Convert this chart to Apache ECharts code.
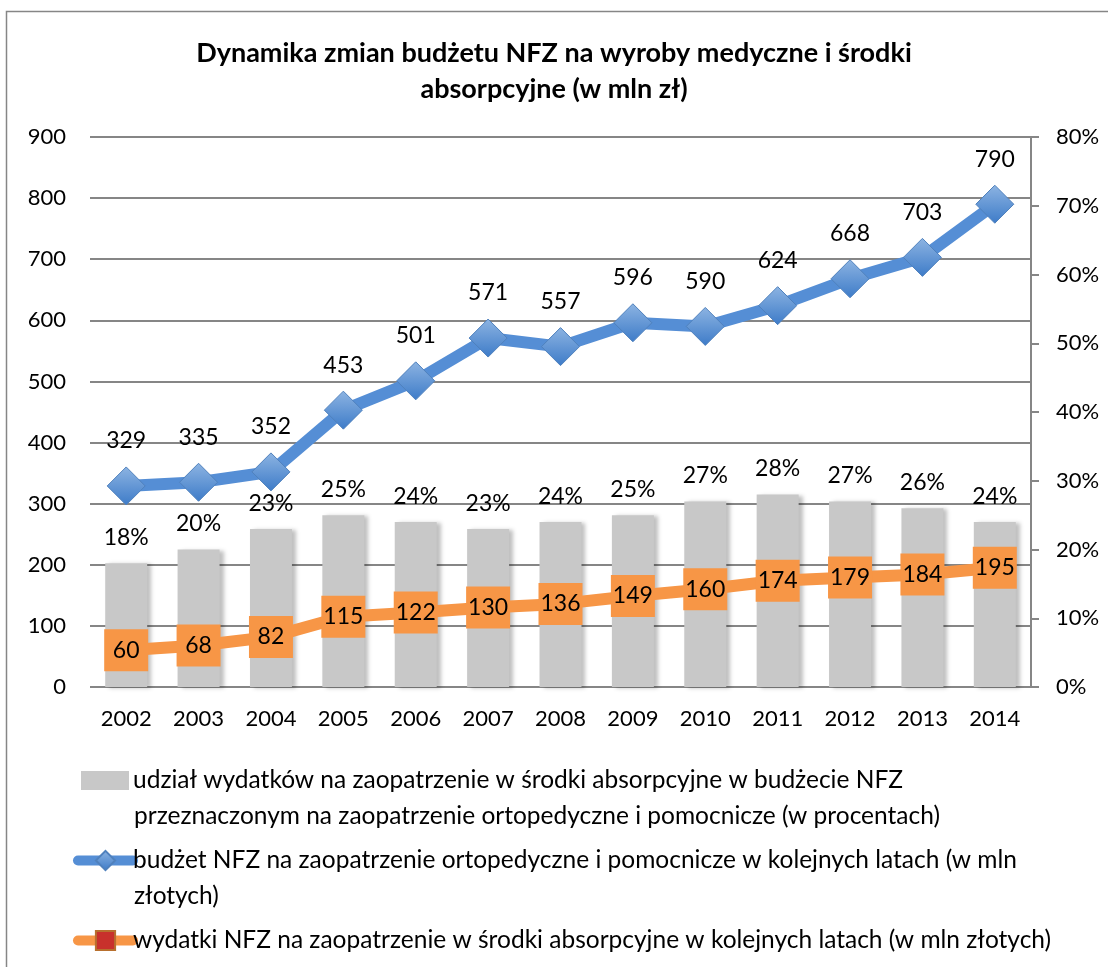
<!DOCTYPE html>
<html>
<head>
<meta charset="utf-8">
<script src="https://cdn.jsdelivr.net/npm/echarts@6/dist/echarts.min.js"></script>
<style>
html, body { margin: 0; padding: 0; background: #fff; }
#chart { width: 1108px; height: 967px; }
</style>
</head>
<body>
<div id="chart"></div>
<script>
// dane wykresu
var years = ['2002', '2003', '2004', '2005', '2006', '2007', '2008', '2009', '2010', '2011', '2012', '2013', '2014'];
var udzial = [18, 20, 23, 25, 24, 23, 24, 25, 27, 28, 27, 26, 24];
var budzet = [329, 335, 352, 453, 501, 571, 557, 596, 590, 624, 668, 703, 790];
var wydatki = [60, 68, 82, 115, 122, 130, 136, 149, 160, 174, 179, 184, 195];

var names = [
	'udział wydatków na zaopatrzenie w środki absorpcyjne w budżecie NFZ\nprzeznaczonym na zaopatrzenie ortopedyczne i pomocnicze (w procentach)',
	'budżet NFZ na zaopatrzenie ortopedyczne i pomocnicze w kolejnych latach (w mln\nzłotych)',
	'wydatki NFZ na zaopatrzenie w środki absorpcyjne w kolejnych latach (w mln złotych)'
];

var font = 'Lato, "Open Sans", sans-serif';
var chart = echarts.init(document.getElementById('chart'));

var legendTop = 763;
var legendStep = 80;
var legendFont = 24.5;

// druga linia opisow legendy (ikona legendy stoi przy pierwszej linii)
var graphics = [{
	type: 'rect',
	shape: { x: 6.5, y: 11.5, width: 1120, height: 980 },
	style: { fill: 'none', stroke: '#868686', lineWidth: 1.5 },
	silent: true
}];
for (var i = 0; i < names.length; i++) {
	var parts = names[i].split('\n');
	if (parts.length > 1) {
		graphics.push({
			type: 'text',
			left: 134,
			top: legendTop + i * legendStep + 41,
			style: { text: parts[1], font: legendFont + 'px ' + font, fill: '#000' },
			silent: true
		});
	}
}

var option = {
	backgroundColor: '#fff',
	textStyle: { fontFamily: font, color: '#000' },
	title: {
		text: 'Dynamika zmian budżetu NFZ na wyroby medyczne i środki\nabsorpcyjne (w mln zł)',
		left: 'center',
		top: 30,
		textStyle: { fontSize: 27, fontWeight: 'bold', lineHeight: 36, fontFamily: font, color: '#000' }
	},
	graphic: graphics,
	grid: { left: 90, right: 77, top: 137, bottom: 280 },
	legend: {
		orient: 'vertical',
		left: 73,
		top: legendTop,
		padding: 0,
		itemWidth: 55,
		itemHeight: 24,
		itemGap: legendStep - 35,
		lineStyle: { width: 10, cap: 'round' },
		formatter: function(name) {
			return name.split('\n')[0];
		},
		data: [
			{ name: names[0], icon: 'path://M0,0M55,24M3,2.5L51,2.5L51,21.5L3,21.5Z' },
			{ name: names[1] },
			{ name: names[2], itemStyle: { color: '#c8312c', borderColor: '#b8702e', borderWidth: 2 } }
		],
		textStyle: { fontSize: legendFont, lineHeight: 35, color: '#000', fontFamily: font, padding: [0, 0, 0, -5] }
	},
	xAxis: {
		type: 'category',
		data: years,
		axisLine: { show: false },
		axisTick: { show: false },
		axisLabel: { fontSize: 22, color: '#000', margin: 21 }
	},
	yAxis: [{
		type: 'value',
		min: 0, max: 900, interval: 100,
		axisLine: { show: false },
		axisTick: { show: false },
		axisLabel: { fontSize: 22, color: '#000', margin: 24 },
		splitLine: { lineStyle: { color: '#868686', width: 2 } }
	}, {
		type: 'value',
		min: 0, max: 80, interval: 10,
		axisLine: { show: true, lineStyle: { color: '#868686', width: 2 } },
		axisTick: { show: true, length: 8, lineStyle: { color: '#868686', width: 2 } },
		axisLabel: { fontSize: 22, color: '#000', margin: 25, formatter: '{value}%' },
		splitLine: { show: false }
	}],
	series: [{
		name: names[0],
		type: 'bar',
		yAxisIndex: 1,
		data: udzial,
		barWidth: '58%',
		itemStyle: {
			color: '#c8c8c8',
			shadowColor: 'rgba(0,0,0,0.25)',
			shadowBlur: 4,
			shadowOffsetX: 4,
			shadowOffsetY: 1
		},
		label: { show: true, position: 'top', distance: 14, fontSize: 23, color: '#000', formatter: '{c}%' },
		z: 1
	}, {
		name: names[1],
		type: 'line',
		yAxisIndex: 0,
		data: budzet,
		symbol: 'diamond',
		symbolSize: [38, 38],
		lineStyle: { color: '#558ed5', width: 12 },
		itemStyle: {
			color: new echarts.graphic.LinearGradient(0, 0, 0, 1, [
				{ offset: 0, color: '#8db4e2' },
				{ offset: 1, color: '#3d7bc8' }
			]),
			borderColor: '#4f81bd',
			borderWidth: 1
		},
		label: { show: true, position: 'top', distance: 14, fontSize: 23, color: '#000' },
		z: 3
	}, {
		name: names[2],
		type: 'line',
		yAxisIndex: 0,
		data: wydatki,
		symbol: 'rect',
		symbolSize: [44, 42],
		lineStyle: { color: '#f79646', width: 12 },
		itemStyle: { color: '#f79646' },
		label: { show: true, position: 'inside', fontSize: 23, color: '#000' },
		z: 4
	}]
};

chart.setOption(option);
</script>
</body>
</html>
